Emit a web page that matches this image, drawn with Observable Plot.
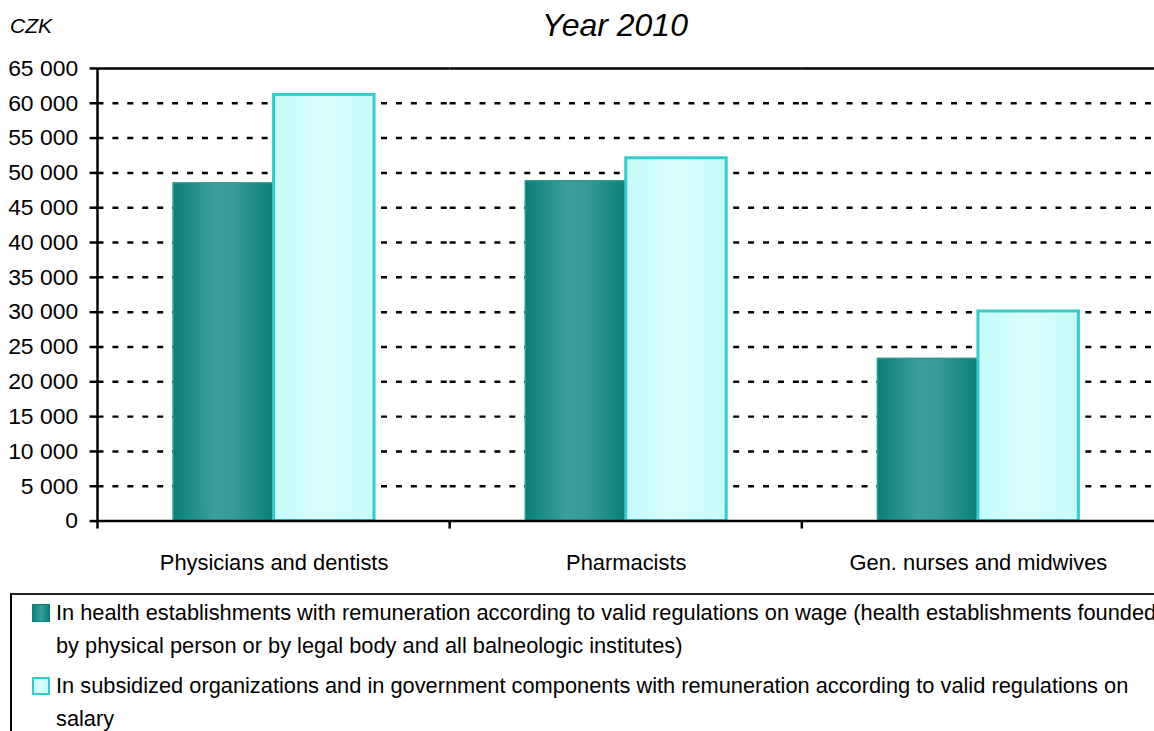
<!DOCTYPE html>
<html>
<head>
<meta charset="utf-8">
<script src="https://cdn.jsdelivr.net/npm/d3@7"></script>
<script src="https://cdn.jsdelivr.net/npm/@observablehq/plot@0.6"></script>
<style>
  body { margin: 0; width: 1154px; height: 731px; overflow: hidden; background: #fff;
         font-family: "Liberation Sans", Arial, sans-serif; position: relative; color: #000; }
  #header { position: relative; height: 58px; }
  #unit { position: absolute; left: 10px; top: 14px; font-style: italic; font-size: 21px; }
  #title { position: absolute; left: 615px; top: 7px; transform: translateX(-50%);
           font-style: italic; font-size: 32px; white-space: nowrap; }
  #chart svg { display: block; overflow: visible; }
  g[aria-label="y-axis tick"] path, g[aria-label="y-axis"] line { stroke-width: 2.5px; }
  g[aria-label="y-axis tick label"], g[aria-label="y-axis"] text { font-size: 23px; }
  #legend { position: absolute; left: 10px; top: 593px; width: 1200px; height: 200px;
            border-left: 2px solid #000; border-top: 2px solid #222; box-sizing: border-box;
            font-size: 21.8px; }
  .item { position: absolute; left: 20px; display: flex; line-height: 33px; white-space: nowrap; }
  .sw { width: 18px; height: 18px; box-sizing: border-box; margin-top: 8px; margin-right: 6px; flex: none; }
</style>
</head>
<body>
<div id="header"><div id="unit">CZK</div><div id="title">Year 2010</div></div>
<div id="chart"></div>
<div id="legend"></div>
<script>
const categories = ["Physicians and dentists", "Pharmacists", "Gen. nurses and midwives"];
const seriesKeys = ["wage", "salary"];
const seriesLabels = [
  ["In health establishments with remuneration according to valid regulations on wage (health establishments founded",
   "by physical person or by legal body and all balneologic institutes)"],
  ["In subsidized organizations and in government components with remuneration according to valid regulations on",
   "salary"]
];
const wageValues = [48500, 48800, 23300];
const salaryValues = [61200, 52100, 30100];
const yTicks = [0, 5000, 10000, 15000, 20000, 25000, 30000, 35000, 40000, 45000, 50000, 55000, 60000, 65000];
const gridTicks = [5000, 10000, 15000, 20000, 25000, 30000, 35000, 40000, 45000, 50000, 55000, 60000];
const yMax = 65000;

const fmt = d3.formatLocale({decimal: ",", thousands: " ", grouping: [3], currency: ["", ""]}).format(",d");

const rows = categories.flatMap((c, i) => [
  {category: c, series: seriesKeys[0], value: wageValues[i]},
  {category: c, series: seriesKeys[1], value: salaryValues[i]}
]);

const chart = Plot.plot({
  width: 1160, height: 532,
  marginTop: 10, marginRight: 0, marginBottom: 67, marginLeft: 98,
  style: {fontFamily: '"Liberation Sans", Arial, sans-serif', fontSize: "22px", color: "#000", background: "transparent", overflow: "visible"},
  fx: {domain: categories, padding: 0, label: null, axis: "bottom", tickSize: 0, tickPadding: 34},
  x: {domain: seriesKeys, paddingInner: 0, paddingOuter: 0.74, axis: null},
  y: {domain: [0, yMax], ticks: yTicks, tickFormat: fmt, tickSize: 8, tickPadding: 12, label: null},
  marks: [
    Plot.ruleY(gridTicks, {stroke: "#000", strokeWidth: 2.5, strokeDasharray: "6,9"}),
    Plot.ruleY([yMax], {stroke: "#000", strokeWidth: 2.5}),
    Plot.barY(rows.filter(d => d.series === seriesKeys[0]), {fx: "category", x: "series", y: "value", fill: "url(#gTeal)", stroke: "#2a9994", strokeWidth: 1.5}),
    Plot.barY(rows.filter(d => d.series === seriesKeys[1]), {fx: "category", x: "series", y: "value", fill: "url(#gCyan)", stroke: "#33cccc", strokeWidth: 3}),
    Plot.ruleY([0], {stroke: "#000", strokeWidth: 2.5})
  ]
});

// gradients
const svg = d3.select(chart);
const defs = svg.insert("defs", ":first-child");
const gt = defs.append("linearGradient").attr("id", "gTeal").attr("x1", "0").attr("x2", "1").attr("y1", "0").attr("y2", "0");
[["0%", "#0a7f7a"], ["40%", "#3a9f9b"], ["60%", "#379c98"], ["100%", "#0a7f7a"]].forEach(([o, c]) => gt.append("stop").attr("offset", o).attr("stop-color", c));
const gc = defs.append("linearGradient").attr("id", "gCyan").attr("x1", "0").attr("x2", "1").attr("y1", "0").attr("y2", "0");
[["0%", "#c6fbfb"], ["50%", "#dbfdfe"], ["100%", "#c6fafa"]].forEach(([o, c]) => gc.append("stop").attr("offset", o).attr("stop-color", c));

// axis lines and category boundary ticks from the library's scales
const fx = chart.scale("fx"), y = chart.scale("y");
const g = svg.append("g").attr("stroke", "#000").attr("stroke-width", 2.5);
const x0 = fx.apply(categories[0]);
g.append("line").attr("x1", x0).attr("x2", x0).attr("y1", y.apply(yMax)).attr("y2", y.apply(0));
categories.forEach(c => {
  const xb = fx.apply(c);
  g.append("line").attr("x1", xb).attr("x2", xb).attr("y1", y.apply(0)).attr("y2", y.apply(0) + 8);
});

document.getElementById("chart").appendChild(chart);

// legend
const legend = d3.select("#legend");
const tops = [1, 74];
const swStyles = [
  {background: "linear-gradient(to right, #0a7f7a, #3a9f9b 50%, #0a7f7a)", border: "1px solid #0a7f7a"},
  {background: "linear-gradient(to right, #c6fbfb, #dbfdfe 50%, #c6fafa)", border: "2px solid #33cccc"}
];
seriesLabels.forEach((lines, i) => {
  const it = legend.append("div").attr("class", "item").style("top", tops[i] + "px");
  it.append("div").attr("class", "sw").style("background", swStyles[i].background).style("border", swStyles[i].border);
  const t = it.append("div");
  lines.forEach((l, j) => { if (j) t.append("br"); t.append("span").text(l); });
});
</script>
</body>
</html>
